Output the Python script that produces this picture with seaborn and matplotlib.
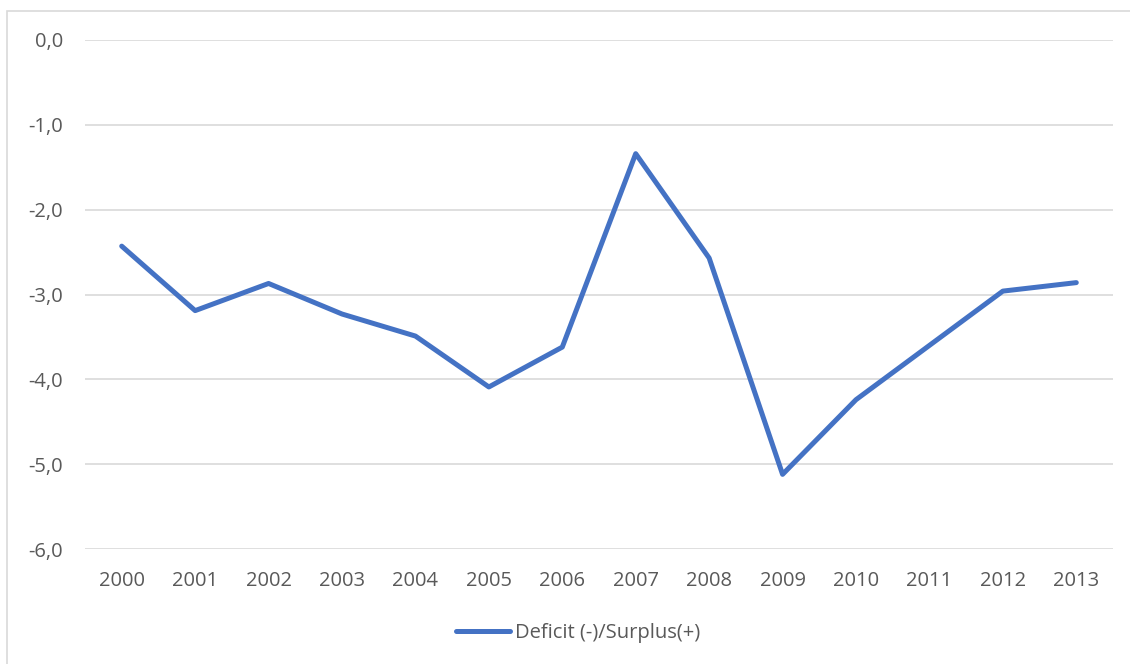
import matplotlib
matplotlib.use("Agg")
import matplotlib.pyplot as plt
from matplotlib.patches import Rectangle
import seaborn as sns
import pandas as pd

years = [2000, 2001, 2002, 2003, 2004, 2005, 2006, 2007, 2008, 2009, 2010, 2011, 2012, 2013]
balance = [-2.43, -3.19, -2.87, -3.23, -3.49, -4.09, -3.62, -1.34, -2.57, -5.12, -4.24, -3.60, -2.96, -2.86]
series_name = "Deficit (-)/Surplus(+)"
y_ticks = [0.0, -1.0, -2.0, -3.0, -4.0, -5.0, -6.0]

sns.set_theme(style="white")
plt.rcParams["font.family"] = ["Open Sans", "DejaVu Sans"]

df = pd.DataFrame({"pos": range(len(years)), "value": balance, "series": series_name})

fig = plt.figure(figsize=(11.3, 6.64), dpi=100)
ax = fig.add_axes([85 / 1130, 115 / 664, (1113 - 85) / 1130, (549 - 40) / 664])

# outer chart frame
fig.patches.append(Rectangle((7 / 1130, -0.01), 1.1, (653 / 664) + 0.01,
                             transform=fig.transFigure, fill=False,
                             edgecolor="#d9d9d9", linewidth=1.2))

sns.lineplot(data=df, x="pos", y="value", hue="series", palette=["#4472C4"],
             linewidth=3.6, ax=ax, legend=True)
for ln in ax.get_lines():
    ln.set_solid_capstyle("round")
    ln.set_solid_joinstyle("round")

ax.set_xlim(-0.5, len(years) - 0.5)
ax.set_ylim(-6.0, 0.0)
ax.set_yticks(y_ticks)
ax.set_yticklabels([f"{v:.1f}".replace(".", ",") for v in y_ticks])
ax.set_xticks(range(len(years)))
ax.set_xticklabels([str(y) for y in years])
ax.grid(axis="y", color="#d9d9d9", linewidth=1.2)
ax.set_axisbelow(True)
for s in ax.spines.values():
    s.set_visible(False)
ax.tick_params(axis="both", length=0, labelsize=14.5, colors="#595959")
ax.tick_params(axis="y", pad=16)
ax.tick_params(axis="x", pad=16)
ax.set_xlabel("")
ax.set_ylabel("")

handles, labels = ax.get_legend_handles_labels()
for h in handles:
    h.set_solid_capstyle("round")
ax.legend(handles, labels, loc="center", bbox_to_anchor=(578 / 1130, 31 / 664),
          bbox_transform=fig.transFigure, frameon=False, fontsize=14.5,
          labelcolor="#595959", handlelength=2.7, handletextpad=0.25)

fig.savefig("out.png", dpi=100, facecolor="white")
